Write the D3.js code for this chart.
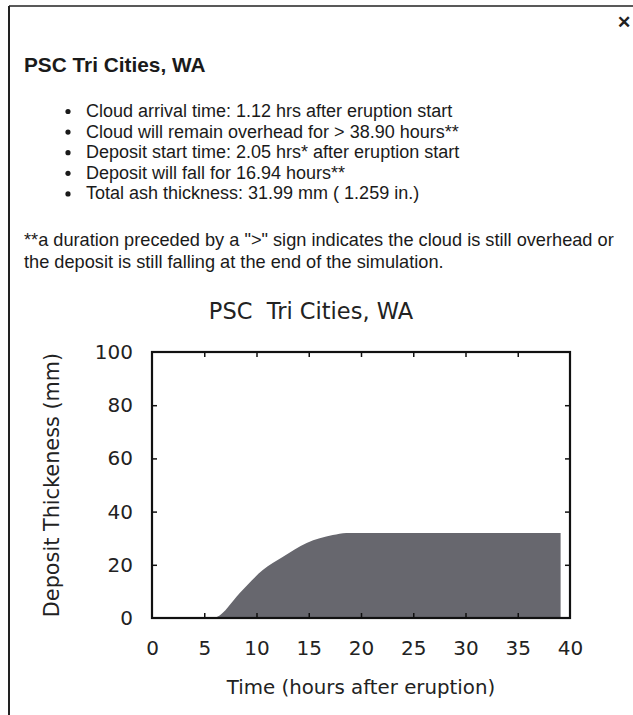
<!DOCTYPE html>
<html>
<head>
<meta charset="utf-8">
<script src="https://cdn.jsdelivr.net/npm/d3@7"></script>
<style>
  html, body { margin: 0; padding: 0; background: #fff; }
  svg { display: block; }
</style>
</head>
<body>
<svg id="chart" width="633" height="715"></svg>
<script>
// ---- data ----
const stationName = "PSC Tri Cities, WA";
const chartTitle = "PSC  Tri Cities, WA";
const bulletItems = [
  "Cloud arrival time: 1.12 hrs after eruption start",
  "Cloud will remain overhead for > 38.90 hours**",
  "Deposit start time: 2.05 hrs* after eruption start",
  "Deposit will fall for 16.94 hours**",
  "Total ash thickness: 31.99 mm ( 1.259 in.)"
];
const footnoteLines = [
  "**a duration preceded by a \">\" sign indicates the cloud is still overhead or",
  "the deposit is still falling at the end of the simulation."
];
const timeHours = [0, 5.8, 6.2, 8.4, 10.6, 12.5, 14.8, 17.3, 18.6, 20, 25, 30, 35, 39.1];
const thicknessMm = [0, 0, 0.4, 9.4, 18.0, 22.9, 28.2, 31.2, 31.99, 31.99, 31.99, 31.99, 31.99, 31.99];
const xTicks = [0, 5, 10, 15, 20, 25, 30, 35, 40];
const yTicks = [0, 20, 40, 60, 80, 100];
const xLabel = "Time (hours after eruption)";
const yLabel = "Deposit Thickeness (mm)";

const svg = d3.select("#chart");

// ---- popup frame ----
svg.append("rect").attr("x", 0).attr("y", 0).attr("width", 633).attr("height", 715).attr("fill", "#fff");
svg.append("line").attr("x1", 9).attr("x2", 633).attr("y1", 6).attr("y2", 6)
  .attr("stroke", "#222").attr("stroke-width", 1.5);
svg.append("line").attr("x1", 9).attr("x2", 9).attr("y1", 6).attr("y2", 715)
  .attr("stroke", "#222").attr("stroke-width", 2);
svg.append("text").attr("x", 624).attr("y", 28).attr("text-anchor", "middle")
  .attr("font-family", "Liberation Sans, Arial, sans-serif").attr("font-weight", "bold")
  .attr("font-size", 17).attr("fill", "#222").text("\u2715");

// ---- info text ----
const bodyFont = "Liberation Sans, Arial, sans-serif";
svg.append("text").attr("x", 24).attr("y", 72)
  .attr("font-family", bodyFont).attr("font-weight", "bold").attr("font-size", 20.8)
  .attr("fill", "#1a1a1a").text(stationName);

const bl = svg.append("g");
bulletItems.forEach((t, i) => {
  const y = 117 + i * 20.6;
  bl.append("circle").attr("cx", 68).attr("cy", y - 5.5).attr("r", 2.6).attr("fill", "#1a1a1a");
  bl.append("text").attr("x", 86).attr("y", y)
    .attr("font-family", bodyFont).attr("font-size", 18).attr("fill", "#1a1a1a").text(t);
});
footnoteLines.forEach((t, i) => {
  svg.append("text").attr("x", 24).attr("y", 246 + i * 21.5)
    .attr("font-family", bodyFont).attr("font-size", 18.2).attr("fill", "#1a1a1a").text(t);
});

// ---- chart ----
const plot = { left: 152, right: 570, top: 352, bottom: 618 };
const x = d3.scaleLinear().domain([0, 40]).range([plot.left, plot.right]);
const y = d3.scaleLinear().domain([0, 100]).range([plot.bottom, plot.top]);
const chartFont = "DejaVu Sans, Verdana, sans-serif";

svg.append("text").attr("x", 311).attr("y", 319)
  .attr("text-anchor", "middle").attr("font-family", chartFont).attr("font-size", 22.5)
  .attr("fill", "#222").style("white-space", "pre").text(chartTitle);

const pts = timeHours.map((t, i) => [t, thicknessMm[i]]);
const area = d3.area()
  .x(d => x(d[0])).y0(y(0)).y1(d => y(d[1]))
  .curve(d3.curveMonotoneX);
svg.append("path").datum(pts).attr("d", area).attr("fill", "#67676e");

// inner ticks
const tickLen = 5;
const gTop = svg.append("g").attr("transform", `translate(0,${plot.top})`)
  .call(d3.axisBottom(x).tickValues(xTicks.slice(1, -1)).tickSize(tickLen).tickFormat(""));
const gBottom = svg.append("g").attr("transform", `translate(0,${plot.bottom})`)
  .call(d3.axisTop(x).tickValues(xTicks.slice(1, -1)).tickSize(tickLen).tickFormat(""));
const gLeft = svg.append("g").attr("transform", `translate(${plot.left},0)`)
  .call(d3.axisRight(y).tickValues(yTicks.slice(1, -1)).tickSize(tickLen).tickFormat(""));
const gRight = svg.append("g").attr("transform", `translate(${plot.right},0)`)
  .call(d3.axisLeft(y).tickValues(yTicks.slice(1, -1)).tickSize(tickLen).tickFormat(""));
[gTop, gBottom, gLeft, gRight].forEach(g => {
  g.select(".domain").remove();
  g.selectAll("line").attr("stroke", "#111").attr("stroke-width", 1.5);
});

// frame
svg.append("rect").attr("x", plot.left).attr("y", plot.top)
  .attr("width", plot.right - plot.left).attr("height", plot.bottom - plot.top)
  .attr("fill", "none").attr("stroke", "#111").attr("stroke-width", 2.2);

// tick labels
const xl = svg.append("g").attr("transform", `translate(0,${plot.bottom})`)
  .call(d3.axisBottom(x).tickValues(xTicks).tickSize(0).tickPadding(23).tickFormat(d3.format("d")));
xl.select(".domain").remove();
xl.selectAll("text").attr("font-family", chartFont).attr("font-size", 20).attr("fill", "#222");

const yl = svg.append("g").attr("transform", `translate(${plot.left},0)`)
  .call(d3.axisLeft(y).tickValues(yTicks).tickSize(0).tickPadding(19).tickFormat(d3.format("d")));
yl.select(".domain").remove();
yl.selectAll("text").attr("font-family", chartFont).attr("font-size", 20).attr("fill", "#222");

svg.append("text").attr("x", 361).attr("y", 694)
  .attr("text-anchor", "middle").attr("font-family", chartFont).attr("font-size", 19.8)
  .attr("fill", "#222").text(xLabel);
svg.append("text").attr("transform", `translate(59,${(plot.top + plot.bottom) / 2}) rotate(-90)`)
  .attr("text-anchor", "middle").attr("font-family", chartFont).attr("font-size", 20.8)
  .attr("fill", "#222").text(yLabel);
</script>
</body>
</html>
